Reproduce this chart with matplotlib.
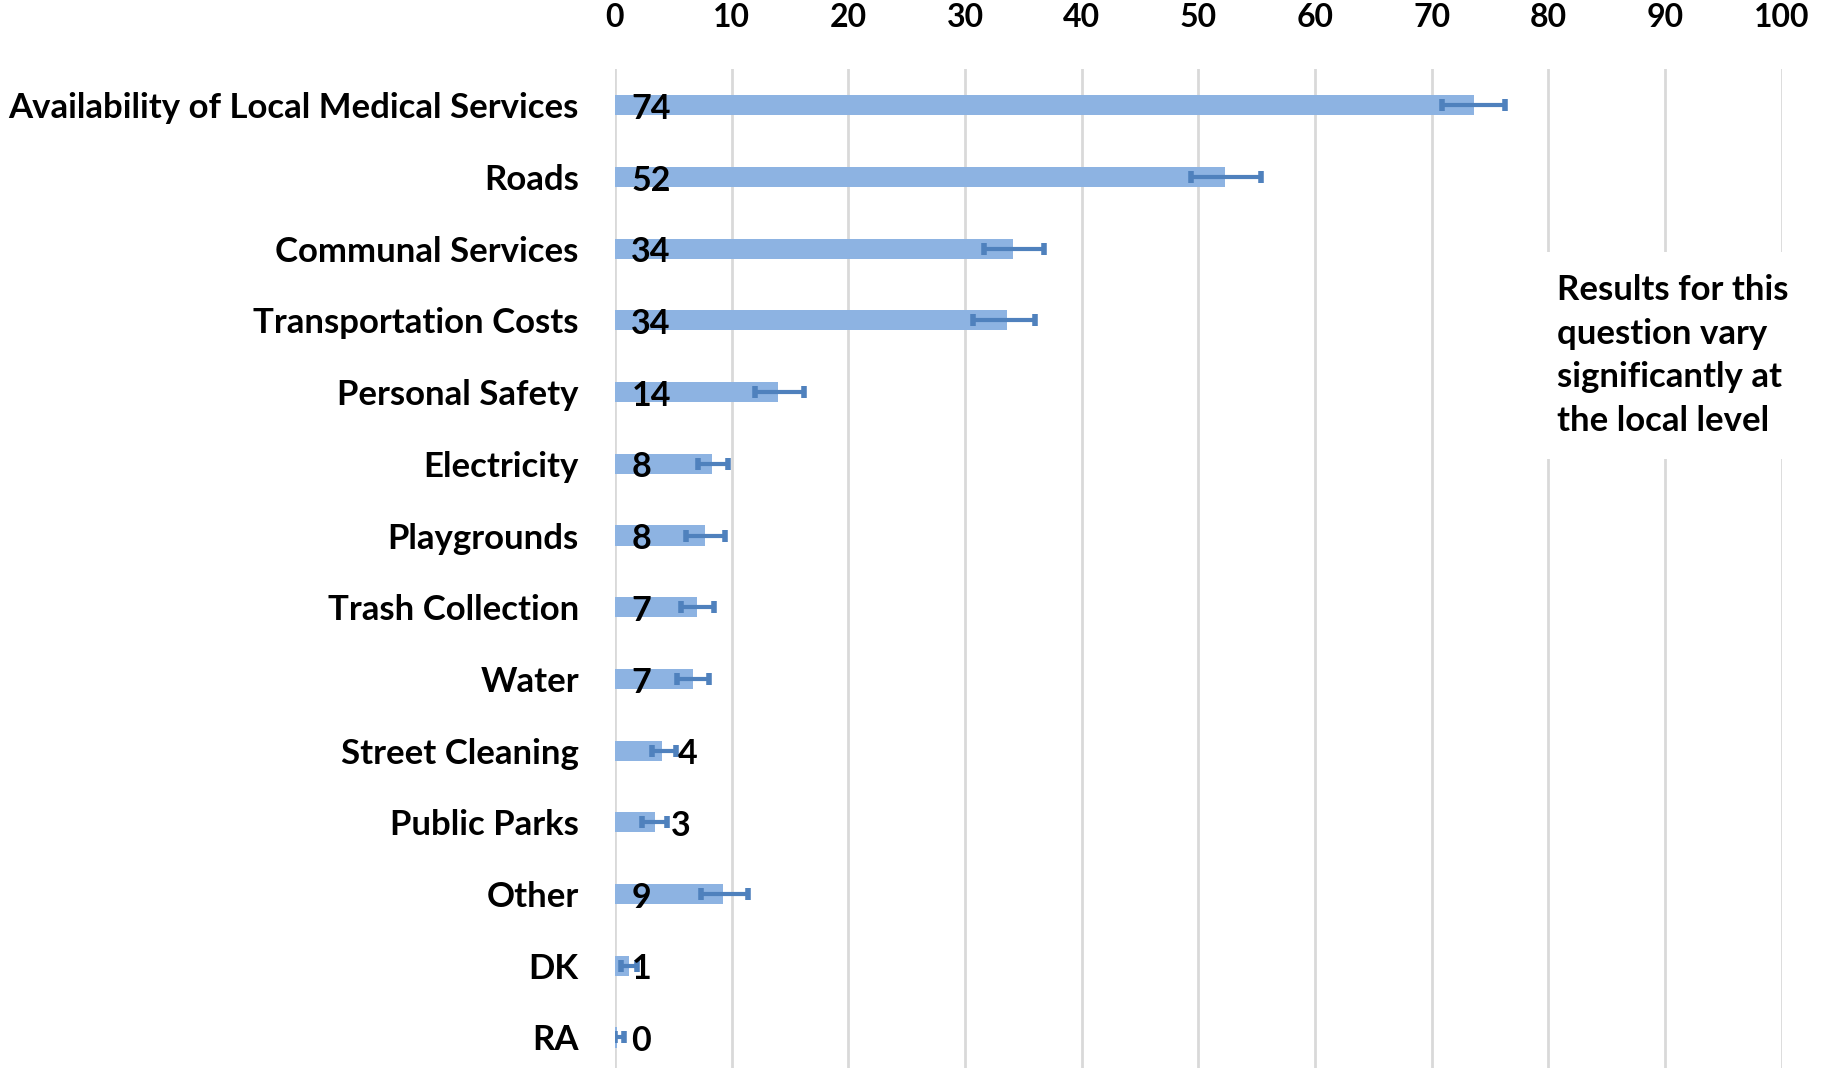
import matplotlib.pyplot as plt

# Data (percent)
categories = ["Availability of Local Medical Services", "Roads", "Communal Services",
              "Transportation Costs", "Personal Safety", "Electricity", "Playgrounds",
              "Trash Collection", "Water", "Street Cleaning", "Public Parks", "Other", "DK", "RA"]
values = [73.6, 52.3, 34.1, 33.6, 14.0, 8.3, 7.7, 7.0, 6.7, 4.0, 3.4, 9.3, 1.2, 0.2]
labels = ["74", "52", "34", "34", "14", "8", "8", "7", "7", "4", "3", "9", "1", "0"]
err_low = [70.9, 49.4, 31.6, 30.7, 12.0, 7.1, 6.1, 5.7, 5.3, 3.2, 2.3, 7.4, 0.5, 0.0]
err_high = [76.3, 55.4, 36.8, 36.0, 16.2, 9.7, 9.4, 8.5, 8.1, 5.2, 4.5, 11.4, 1.9, 0.8]
note = "Results for this\nquestion vary\nsignificantly at\nthe local level"

plt.rcParams['font.family'] = ['Lato', 'DejaVu Sans']
plt.rcParams['font.weight'] = 'bold'

fig = plt.figure(figsize=(18.33, 10.68), dpi=100)
ax = fig.add_axes([0.3355, -0.005, 0.6365, 0.940])

y = list(range(len(categories)))
ax.barh(y, values, height=0.28, color='#8DB3E2', zorder=2)
centers = [(lo + hi) / 2 for lo, hi in zip(err_low, err_high)]
half = [(hi - lo) / 2 for lo, hi in zip(err_low, err_high)]
ax.errorbar(centers, y, xerr=half, fmt='none', ecolor='#4F81BD', elinewidth=3,
            capsize=4, capthick=4, zorder=3)

for yi, v, lab in zip(y, values, labels):
    lx = v + 1.4 if 2 < v < 5 else 1.4
    ax.text(lx, yi + 0.05, lab, ha='left', va='center', fontsize=24.5,
            fontweight='bold', color='black', zorder=4)

ax.set_xlim(0, 100)
ax.set_ylim(len(categories) - 0.5, -0.5)
ax.set_xticks(range(0, 101, 10))
ax.set_yticks(y)
ax.set_yticklabels(categories)
ax.xaxis.tick_top()
ax.tick_params(axis='x', length=0, pad=27, labelsize=23)
ax.tick_params(axis='y', length=0, pad=26, labelsize=25)
for lab in ax.get_xticklabels() + ax.get_yticklabels():
    lab.set_fontweight('bold')

ax.grid(axis='x', color='#D9D9D9', linewidth=2, zorder=0)
ax.set_axisbelow(True)
for s in ax.spines.values():
    s.set_visible(False)

ax.text(1557 / 1833, 1 - 274 / 1068, note, transform=fig.transFigure, ha='left', va='top',
        fontsize=25, fontweight='bold', linespacing=1.45, zorder=5,
        bbox=dict(facecolor='white', edgecolor='none', pad=16))

fig.savefig("out.png", dpi=100)
